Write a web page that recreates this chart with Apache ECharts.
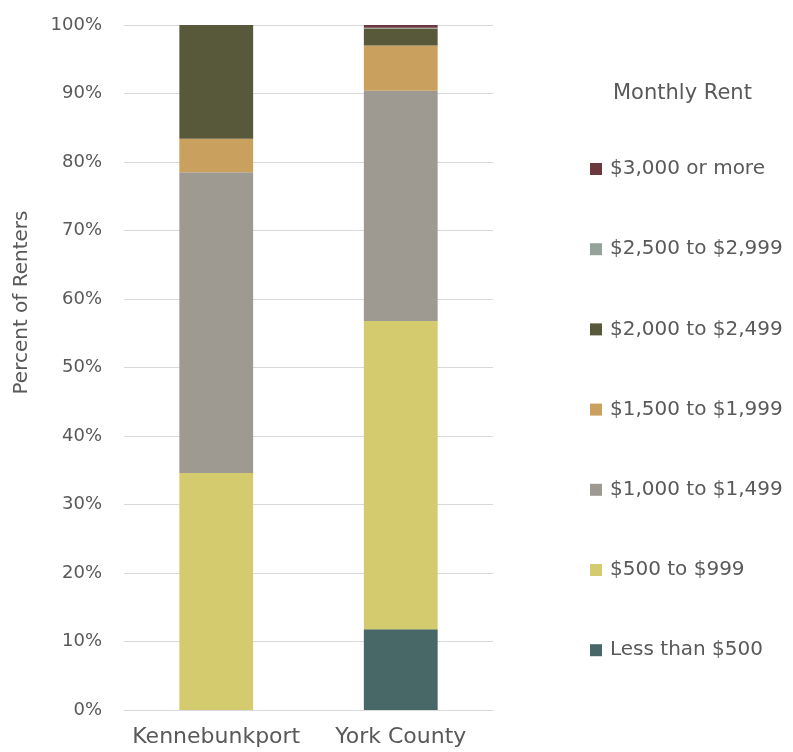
<!DOCTYPE html>
<html>
<head>
<meta charset="utf-8">
<script src="https://cdn.jsdelivr.net/npm/echarts@6/dist/echarts.min.js"></script>
<style>
  html, body { margin: 0; padding: 0; background: #fff; }
  #barChart { width: 793px; height: 752px; }
</style>
</head>
<body>
<div id="barChart"></div>
<script>
// places on the x axis
var places = ["Kennebunkport", "York County"];

// rent bands, bottom of the stack first (percent of renters)
var bands = ["Less than $500", "$500 to $999", "$1,000 to $1,499", "$1,500 to $1,999",
             "$2,000 to $2,499", "$2,500 to $2,999", "$3,000 or more"];
var lessThan500 = [0, 11.8];
var from500 = [34.6, 45.0];
var from1000 = [43.9, 33.6];
var from1500 = [4.9, 6.6];
var from2000 = [16.6, 2.5];
var from2500 = [0, 0.1];
var from3000 = [0, 0.4];
var bandValues = [lessThan500, from500, from1000, from1500, from2000, from2500, from3000];

var colors = ["#476866", "#D3CB6E", "#9F9A91", "#C9A05D", "#58583B", "#94A39A", "#6C3A3E"];
var font = "DejaVu Sans";
var textColor = "#595959";

var series = bands.map(function (name, i) {
  return {
    name: name,
    type: "bar",
    stack: "rent",
    barWidth: "40%",
    itemStyle: { color: colors[i] },
    data: bandValues[i]
  };
});

var option = {
  animation: false,
  title: {
    text: "Monthly Rent",
    left: 608,
    top: 78,
    textStyle: { fontFamily: font, fontSize: 21, fontWeight: "normal", color: textColor }
  },
  legend: {
    orient: "vertical",
    left: 585,
    top: 152,
    itemWidth: 12,
    itemHeight: 12,
    itemGap: 56.2,
    icon: "rect",
    data: bands.slice().reverse(),
    textStyle: { fontFamily: font, fontSize: 20, color: textColor, lineHeight: 24, padding: [0, 0, 0, 3] }
  },
  grid: {
    left: 124,
    right: 300,
    top: 25,
    bottom: 42
  },
  xAxis: {
    type: "category",
    data: places,
    axisLine: { lineStyle: { color: "#D9D9D9", width: 1 } },
    axisTick: { show: false },
    axisLabel: { interval: 0, fontFamily: font, fontSize: 22, color: textColor, margin: 16 }
  },
  yAxis: {
    type: "value",
    min: 0,
    max: 100,
    interval: 10,
    name: "Percent of Renters",
    nameLocation: "middle",
    nameGap: 92,
    nameTextStyle: { fontFamily: font, fontSize: 20, color: textColor, padding: [0, 0, 0, 130] },
    axisLine: { show: false },
    axisTick: { show: false },
    splitLine: { lineStyle: { color: "#D9D9D9", width: 1 } },
    axisLabel: { fontFamily: font, fontSize: 18, color: textColor, margin: 22, formatter: "{value}%" }
  },
  series: series
};

var myChart = echarts.init(document.getElementById("barChart"));
myChart.setOption(option);
</script>
</body>
</html>
